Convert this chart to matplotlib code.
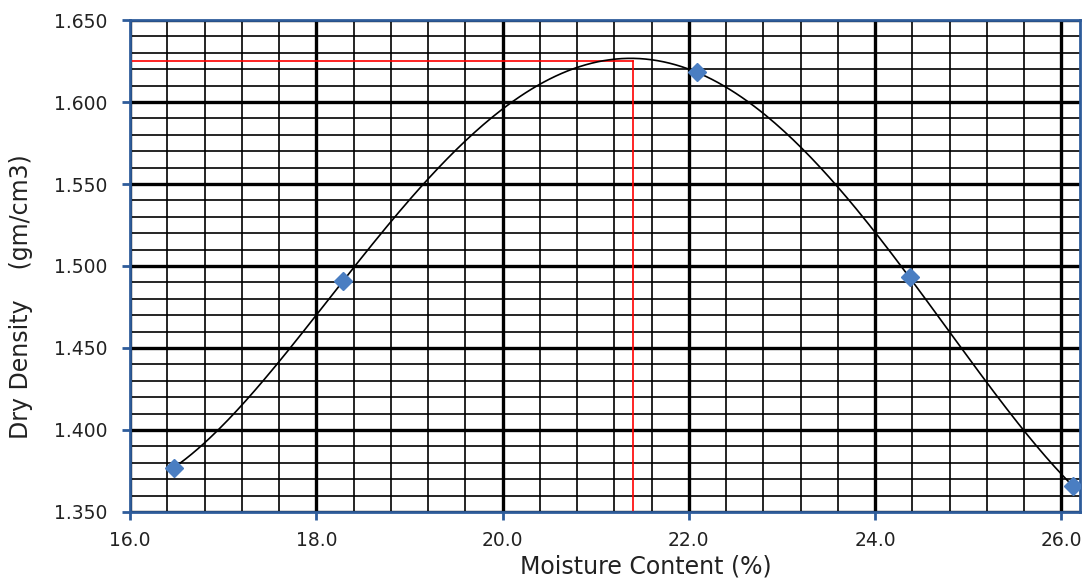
import numpy as np
import matplotlib.pyplot as plt
from matplotlib.ticker import MultipleLocator

# test points
moisture = [16.47, 18.29, 22.09, 24.37, 26.12]
density = [1.377, 1.491, 1.618, 1.493, 1.366]

# optimum moisture content / maximum dry density
omc = 21.4
mdd = 1.625

blue = "#2E5C9A"

fig = plt.figure(figsize=(10.86, 5.87), dpi=100)
ax = fig.add_axes([0.1197, 0.1278, 0.8748, 0.8381])

# smooth trend curve through the points
coef = np.polyfit(moisture, density, 4)
xs = np.linspace(min(moisture), max(moisture), 300)
ax.plot(xs, np.polyval(coef, xs), color="black", linewidth=1.2, zorder=3)

ax.plot(moisture, density, linestyle="none", marker="D", markersize=9,
        color="#4A7EC2", zorder=4)

# red lines marking the peak
ax.plot([16.0, omc], [mdd, mdd], color="red", linewidth=1.2, zorder=2.5)
ax.plot([omc, omc], [1.35, mdd], color="red", linewidth=1.2, zorder=2.5)

ax.set_xlim(16.0, 26.2)
ax.set_ylim(1.350, 1.650)
ax.xaxis.set_major_locator(MultipleLocator(2.0))
ax.xaxis.set_minor_locator(MultipleLocator(0.4))
ax.yaxis.set_major_locator(MultipleLocator(0.05))
ax.yaxis.set_minor_locator(MultipleLocator(0.01))
ax.xaxis.set_major_formatter(plt.FormatStrFormatter("%.1f"))
ax.yaxis.set_major_formatter(plt.FormatStrFormatter("%.3f"))

ax.grid(which="major", color="black", linewidth=2.4, zorder=1)
ax.grid(which="minor", color="black", linewidth=1.2, zorder=1)
ax.set_axisbelow(True)

for s in ax.spines.values():
    s.set_color(blue)
    s.set_linewidth(2)

ax.tick_params(which="major", direction="out", length=6, width=2, color=blue,
               labelsize=13.5, labelcolor="#222222")
ax.tick_params(which="minor", length=0)
ax.tick_params(axis="x", pad=8)
ax.tick_params(axis="y", pad=10)

ax.set_xlabel("Moisture Content (%)", fontsize=17, color="#222222")
ax.xaxis.set_label_coords(0.543, -0.087)
ax.set_ylabel("Dry Density    (gm/cm3)", fontsize=17, color="#222222")
ax.yaxis.set_label_coords(-0.102, 0.437)

fig.savefig("out.png", dpi=100)
